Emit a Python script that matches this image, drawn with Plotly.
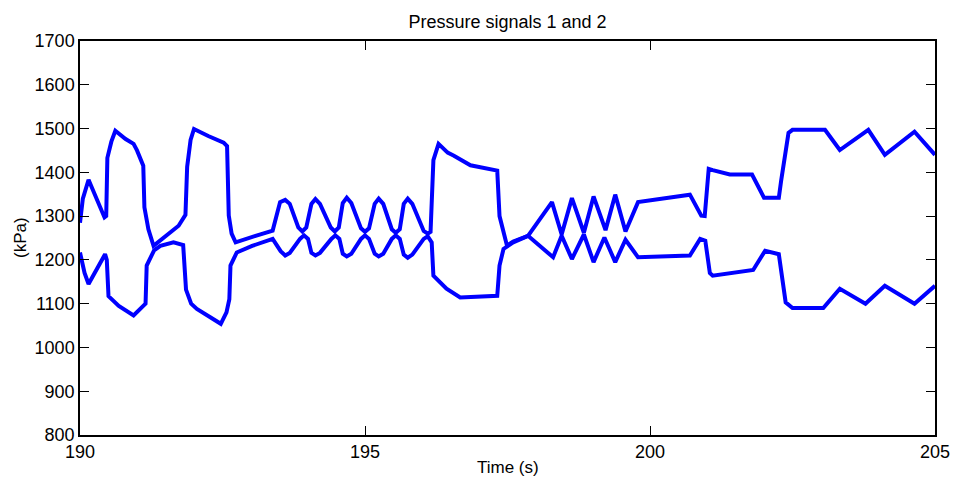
import plotly.graph_objects as go

# Time (s) and pressure (kPa)
t_sig1 = [190.00, 190.05, 190.15, 190.30, 190.43, 190.46, 190.48, 190.55, 190.62, 190.80,
          190.94, 191.00, 191.11, 191.13, 191.20, 191.29, 191.50, 191.73, 191.85, 191.88,
          191.94, 192.00, 192.25, 192.52, 192.58, 192.61, 192.66, 192.73, 193.08, 193.38,
          193.51, 193.60, 193.68, 193.83, 193.90, 193.97, 194.06, 194.13, 194.21, 194.40,
          194.47, 194.54, 194.61, 194.68, 194.76, 194.93, 195.00, 195.07, 195.17, 195.24,
          195.32, 195.47, 195.54, 195.61, 195.68, 195.75, 195.83, 196.03, 196.10, 196.15,
          196.20, 196.29, 196.45, 196.56, 196.85, 197.32, 197.36, 197.49,
          197.60, 197.86, 198.28, 198.45, 198.63, 198.84, 199.01, 199.22, 199.39, 199.57,
          199.79, 200.18, 200.70, 200.90, 200.96, 201.03, 201.10, 201.40, 201.79, 202.00,
          202.26, 202.30, 202.43, 202.50, 203.07, 203.33, 203.83, 204.12, 204.64, 205.00]
p_sig1 = [1285, 1340, 1383, 1335, 1297, 1300, 1433, 1470, 1495, 1476,
          1465, 1450, 1415, 1320, 1270, 1232, 1255, 1278, 1303, 1413,
          1474, 1499, 1483, 1468, 1460, 1301, 1260, 1240, 1255, 1267,
          1332, 1337, 1328, 1274, 1265, 1274, 1328, 1339, 1328, 1274,
          1265, 1274, 1330, 1342, 1330, 1272, 1264, 1272, 1328, 1340,
          1328, 1270, 1262, 1270, 1328, 1340, 1328, 1266, 1260, 1264,
          1428, 1465, 1445, 1438, 1416, 1404, 1300, 1233,
          1242, 1255, 1332, 1258, 1341, 1262, 1345, 1268, 1349, 1265,
          1332, 1339, 1349, 1301, 1300, 1408, 1405, 1395, 1395, 1342,
          1342, 1380, 1490, 1497, 1497, 1451, 1497, 1440, 1493, 1440]

t_sig2 = [190.00, 190.08, 190.15, 190.30, 190.44, 190.47, 190.50, 190.68, 190.94, 191.11,
          191.15, 191.17, 191.30, 191.41, 191.64, 191.81, 191.86, 191.95, 192.05, 192.47,
          192.57, 192.62, 192.64, 192.75, 193.02, 193.38, 193.52, 193.60, 193.68, 193.86,
          193.93, 194.00, 194.06, 194.13, 194.21, 194.41, 194.48, 194.55, 194.61, 194.68,
          194.76, 194.93, 195.00, 195.07, 195.17, 195.24, 195.32, 195.47, 195.54, 195.61,
          195.68, 195.75, 195.83, 196.03, 196.10, 196.17, 196.20, 196.43, 196.67,
          197.32, 197.36, 197.43, 197.60, 197.86, 198.30, 198.45, 198.63, 198.84, 199.01,
          199.20, 199.39, 199.57, 199.79, 200.70, 200.88, 200.97, 201.05, 201.10, 201.81,
          202.02, 202.26, 202.38, 202.50, 203.04, 203.33, 203.78, 204.12, 204.64, 205.00]
p_sig2 = [1217, 1170, 1145, 1178, 1213, 1200, 1117, 1095, 1073, 1095,
          1100, 1187, 1222, 1232, 1240, 1234, 1132, 1100, 1088, 1054,
          1080, 1110, 1187, 1217, 1232, 1248, 1220, 1210, 1216, 1248,
          1256, 1248, 1216, 1210, 1216, 1248, 1256, 1248, 1214, 1208,
          1214, 1248, 1256, 1248, 1214, 1208, 1214, 1248, 1256, 1248,
          1212, 1205, 1212, 1248, 1254, 1240, 1164, 1134, 1114,
          1118, 1187, 1225, 1240, 1255, 1206, 1255, 1202, 1258, 1195,
          1251, 1195, 1246, 1206, 1210, 1248, 1244, 1170, 1164, 1177,
          1221, 1213, 1103, 1090, 1090, 1134, 1100, 1141, 1100, 1141]

x_ticks = [190, 195, 200, 205]
y_ticks = [800, 900, 1000, 1100, 1200, 1300, 1400, 1500, 1600, 1700]

FONT = "Arial, Liberation Sans, Helvetica, sans-serif"
BLUE = "#0000FF"

fig = go.Figure()
for t, p in ((t_sig1, p_sig1), (t_sig2, p_sig2)):
    fig.add_trace(go.Scatter(x=t, y=p, mode="lines",
                             line=dict(color=BLUE, width=4),
                             showlegend=False, hoverinfo="skip"))

axis_common = dict(showgrid=False, zeroline=False, showline=True, linecolor="black",
                   linewidth=1.5, mirror="ticks", ticks="inside", ticklen=9,
                   tickcolor="black", tickwidth=1, automargin=False,
                   tickfont=dict(family=FONT, size=18, color="black"))

fig.update_xaxes(range=[190, 205], tickvals=x_ticks, ticktext=[str(v) for v in x_ticks],
                 **axis_common)
fig.update_yaxes(range=[800, 1700], tickvals=y_ticks, ticktext=[str(v) for v in y_ticks],
                 **axis_common)

fig.update_layout(
    width=953, height=482,
    margin=dict(l=80, r=18, t=41, b=47),
    paper_bgcolor="white", plot_bgcolor="white",
    font=dict(family=FONT, size=17, color="black"),
    title=dict(text="Pressure signals 1 and 2", x=0.5, xref="paper",
               y=1 - 22 / 482, yref="container", yanchor="middle", xanchor="center",
               font=dict(family=FONT, size=18, color="black")),
    annotations=[
        dict(text="Time (s)", xref="paper", yref="paper", x=0.5, y=-(467 - 435) / 394,
             xanchor="center", yanchor="middle", showarrow=False,
             font=dict(family=FONT, size=17, color="black")),
        dict(text="(kPa)", xref="paper", yref="paper", x=-(80 - 20) / 855, y=0.5,
             xanchor="center", yanchor="middle", textangle=-90, showarrow=False,
             font=dict(family=FONT, size=17, color="black")),
    ],
)

fig.write_html("out.html")
